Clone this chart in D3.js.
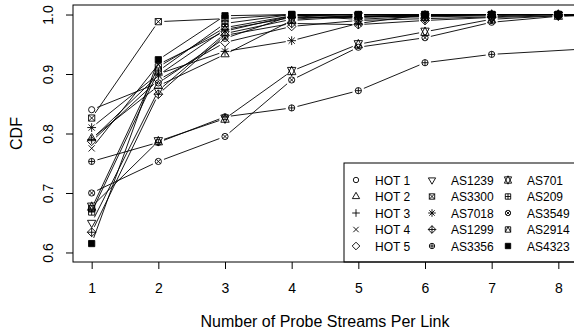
<!DOCTYPE html>
<html>
<head>
<meta charset="utf-8">
<script src="https://cdn.jsdelivr.net/npm/d3@7"></script>
<style>
  body { margin: 0; background: #fff; }
  svg text { font-family: "Liberation Sans", Arial, Helvetica, sans-serif; fill: #000; }
</style>
</head>
<body>
<svg id="svg1" width="574" height="333"></svg>
<script>
"use strict";

// probe streams per link (x) and CDF per topology
const streams = [1, 2, 3, 4, 5, 6, 7, 8, 9];
const names = ["HOT 1", "HOT 2", "HOT 3", "HOT 4", "HOT 5",
    "AS1239", "AS3300", "AS7018", "AS1299", "AS3356",
    "AS701", "AS209", "AS3549", "AS2914", "AS4323"];
const pchs = [1, 2, 3, 4, 5, 6, 7, 8, 9, 10, 11, 12, 13, 14, 15];

const hot1 = [0.840, 0.885, 0.960, 0.998, 1.000, 1.000, 1.000, 1.000, 1.000];
const hot2 = [0.792, 0.880, 0.933, 0.990, 0.997, 0.998, 1.000, 1.000, 1.000];
const hot3 = [0.790, 0.898, 0.975, 0.995, 0.995, 0.998, 1.000, 1.000, 1.000];
const hot4 = [0.775, 0.916, 0.972, 0.998, 0.992, 0.997, 1.000, 1.000, 1.000];
const hot5 = [0.787, 0.890, 0.953, 0.980, 0.990, 0.993, 0.996, 1.000, 1.000];
const as1239 = [0.650, 0.872, 0.968, 0.992, 0.999, 0.998, 1.000, 1.000, 1.000];
const as3300 = [0.826, 0.988, 0.993, 1.000, 1.000, 1.000, 1.000, 1.000, 1.000];
const as7018 = [0.810, 0.900, 0.938, 0.956, 0.985, 1.000, 1.000, 1.000, 1.000];
const as1299 = [0.634, 0.866, 0.965, 0.985, 0.983, 0.990, 0.995, 0.998, 1.000];
const as3356 = [0.753, 0.785, 0.828, 0.843, 0.872, 0.919, 0.933, null, 0.946];
const as701 = [0.677, 0.787, 0.825, 0.905, 0.950, 0.971, 0.992, 0.998, 1.000];
const as209 = [0.668, 0.905, 0.985, 1.000, 0.996, 1.000, 1.000, 1.000, 1.000];
const as3549 = [0.700, 0.753, 0.795, 0.890, 0.945, 0.961, 0.987, 0.997, 1.000];
const as2914 = [0.674, 0.912, 0.978, 0.998, 0.997, 0.996, 0.998, 1.000, 1.000];
const as4323 = [0.615, 0.924, 0.998, 1.000, 1.000, 1.000, 1.000, 1.000, 1.000];

const allSeries = [hot1, hot2, hot3, hot4, hot5, as1239, as3300, as7018,
    as1299, as3356, as701, as209, as3549, as2914, as4323];

const xTicks = [1, 2, 3, 4, 5, 6, 7, 8];
const yTicks = [0.6, 0.7, 0.8, 0.9, 1.0];

// R-style plotting symbols, centred on 0,0
function pchPath(pch, r) {
    const T0 = 1.5551, T1 = 1.3468, T2 = 0.7776;
    let p = d3.path();
    function circle(rr) { p.moveTo(rr, 0); p.arc(0, 0, rr, 0, 2 * Math.PI); }
    function square(h) { p.rect(-h, -h, 2 * h, 2 * h); }
    function plus(a) { p.moveTo(-a, 0); p.lineTo(a, 0); p.moveTo(0, -a); p.lineTo(0, a); }
    function cross(a) { p.moveTo(-a, -a); p.lineTo(a, a); p.moveTo(-a, a); p.lineTo(a, -a); }
    function diamond(a) { p.moveTo(0, -a); p.lineTo(a, 0); p.lineTo(0, a); p.lineTo(-a, 0); p.closePath(); }
    function tri(sign) {
        p.moveTo(0, -sign * r * T0);
        p.lineTo(r * T1, sign * r * T2);
        p.lineTo(-r * T1, sign * r * T2);
        p.closePath();
    }
    switch (pch) {
        case 1: circle(r); break;
        case 2: tri(1); break;
        case 3: plus(r * Math.SQRT2); break;
        case 4: cross(r); break;
        case 5: diamond(r * Math.SQRT2); break;
        case 6: tri(-1); break;
        case 7: square(r); cross(r); break;
        case 8: cross(r); plus(r * Math.SQRT2); break;
        case 9: diamond(r * Math.SQRT2); plus(r * Math.SQRT2); break;
        case 10: circle(r); plus(r); break;
        case 11: {
            let rr = T0 * r, yc = 0.5 * (T2 * r + rr), xc = T1 * r;
            p.moveTo(0, -rr); p.lineTo(xc, yc); p.lineTo(-xc, yc); p.closePath();
            p.moveTo(0, rr); p.lineTo(xc, -yc); p.lineTo(-xc, -yc); p.closePath();
            break;
        }
        case 12: square(r); plus(r); break;
        case 13: circle(r); cross(r * 0.72); break;
        case 14: square(r); p.moveTo(0, -r); p.lineTo(r, r); p.moveTo(0, -r); p.lineTo(-r, r); break;
        case 15: square(r); break;
    }
    return p.toString();
}

let svg = d3.select("#svg1");
let margin = {top: 5, right: -3, bottom: 71, left: 73};
let width = 574 - margin.left - margin.right;
let height = 333 - margin.top - margin.bottom;

let x = d3.scaleLinear().domain([1 - 0.28, 8 + 0.28]).range([0, width]);
let y = d3.scaleLinear().domain([0.584, 1.016]).range([height, 0]);

let g = svg.append("g").attr("transform", `translate(${margin.left},${margin.top})`);

svg.append("defs").append("clipPath").attr("id", "plotClip")
    .append("rect").attr("width", width).attr("height", height);

// axes
let xAxis = g.append("g").attr("transform", `translate(0,${height})`)
    .call(d3.axisBottom(x).tickValues(xTicks).tickSize(7).tickPadding(14).tickFormat(d3.format("d")));
let yAxis = g.append("g")
    .call(d3.axisLeft(y).tickValues(yTicks).tickSize(7).tickFormat(d3.format(".1f")));
[xAxis, yAxis].forEach(a => {
    a.select(".domain").remove();
    a.selectAll(".tick line").attr("stroke", "#000");
    a.selectAll(".tick text").style("font-size", "14px").attr("font-family", null);
});
yAxis.selectAll(".tick text")
    .attr("x", 0).attr("y", -20).attr("dy", 0)
    .attr("text-anchor", "middle").attr("transform", "rotate(-90)");

// series: lines with gaps around the points (type = "b")
let plot = g.append("g").attr("clip-path", "url(#plotClip)");
const gap = 6;
allSeries.forEach((vals, i) => {
    let pts = [];
    vals.forEach((v, j) => { if (v !== null) pts.push([x(streams[j]), y(v)]); });
    let path = d3.path();
    for (let k = 0; k < pts.length - 1; k++) {
        let [x0, y0] = pts[k], [x1, y1] = pts[k + 1];
        let len = Math.hypot(x1 - x0, y1 - y0);
        if (len <= 2 * gap) continue;
        let ux = (x1 - x0) / len, uy = (y1 - y0) / len;
        path.moveTo(x0 + ux * gap, y0 + uy * gap);
        path.lineTo(x1 - ux * gap, y1 - uy * gap);
    }
    plot.append("path").attr("d", path.toString())
        .attr("fill", "none").attr("stroke", "#000").attr("stroke-width", 0.9);

    plot.selectAll(null).data(pts).enter().append("path")
        .attr("transform", d => `translate(${d[0]},${d[1]})`)
        .attr("d", pchPath(pchs[i], 3.1))
        .attr("fill", pchs[i] === 15 ? "#000" : "none")
        .attr("stroke", "#000").attr("stroke-width", 0.9);
});

// legend, bottom right, three columns of five
let legend = g.append("g");
legend.append("rect").attr("x", 271).attr("y", 158).attr("width", 240).attr("height", height - 158)
    .attr("fill", "#fff").attr("stroke", "#000");
names.forEach((n, i) => {
    let col = Math.floor(i / 5), row = i % 5;
    let cx = 283 + col * 76, cy = 175 + row * 16.5;
    legend.append("path").attr("transform", `translate(${cx},${cy})`)
        .attr("d", pchPath(pchs[i], 2.7))
        .attr("fill", pchs[i] === 15 ? "#000" : "none")
        .attr("stroke", "#000").attr("stroke-width", 0.9);
    legend.append("text").attr("x", cx + 19).attr("y", cy + 4.5)
        .style("font-size", "12px").text(n);
});

// plot frame
g.append("rect").attr("width", width).attr("height", height)
    .attr("fill", "none").attr("stroke", "#000");

// axis titles
svg.append("text").attr("x", margin.left + width / 2).attr("y", 327)
    .attr("text-anchor", "middle").style("font-size", "16px").text("Number of Probe Streams Per Link");
svg.append("text").attr("transform", `translate(22,${margin.top + height / 2}) rotate(-90)`)
    .attr("text-anchor", "middle").style("font-size", "16px").text("CDF");
</script>
</body>
</html>
